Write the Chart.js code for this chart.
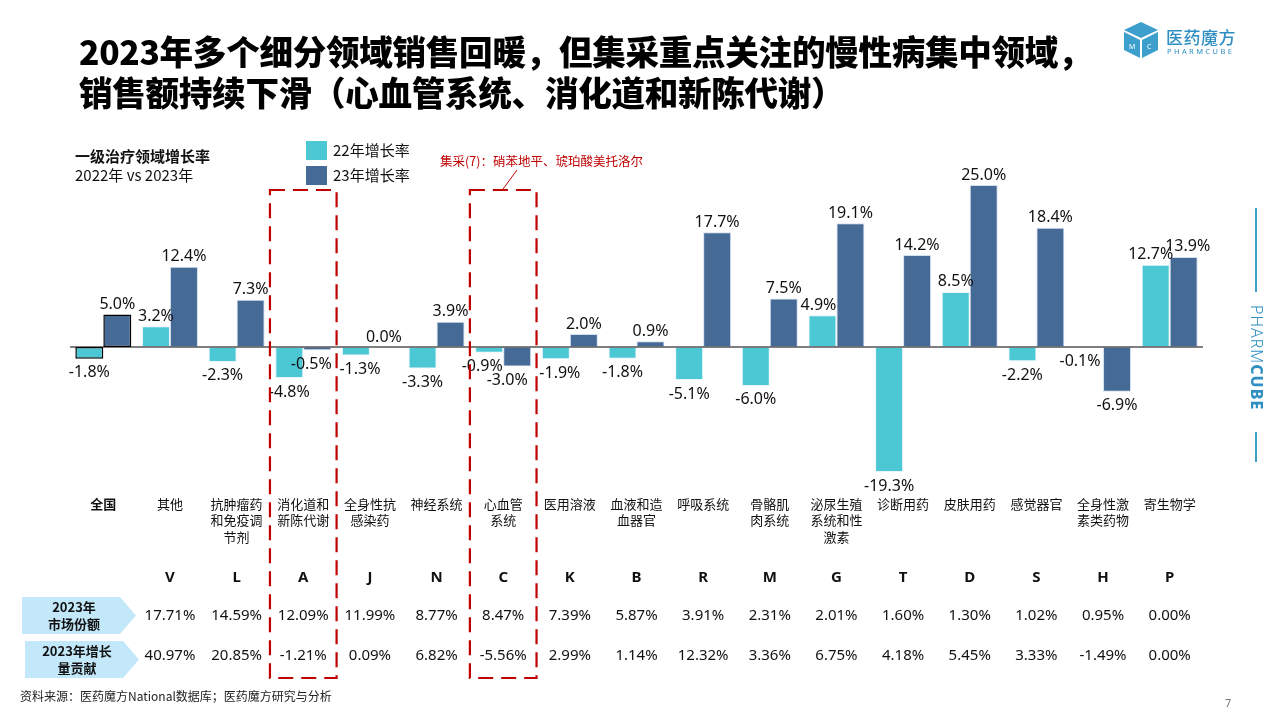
<!DOCTYPE html>
<html><head><meta charset="utf-8">
<script src="https://cdn.jsdelivr.net/npm/chart.js@4/dist/chart.umd.min.js"></script>
<style>
html,body{margin:0;padding:0;background:#fff;}
#wrap{position:relative;width:1280px;height:720px;overflow:hidden;font-family:"Noto Sans","Noto Sans CJK SC",sans-serif;color:#111;}
canvas{position:absolute;left:0;top:0;}
.abs{position:absolute;white-space:nowrap;}
#title{left:79px;top:30px;font-family:"Noto Sans CJK SC";font-weight:900;font-size:33.6px;line-height:41px;color:#000;letter-spacing:-0.3px;}
</style></head>
<body><div id="wrap">
<canvas id="c" width="1280" height="720"></canvas>
<div class="abs" id="title">2023年多个细分领域销售回暖，但集采重点关注的慢性病集中领域，<br>销售额持续下滑（心血管系统、消化道和新陈代谢）</div>
<div class="abs" style="left:75px;top:145px;font-family:'Noto Sans CJK SC';font-weight:700;font-size:15px;">一级治疗领域增长率</div>
<div class="abs" style="left:75px;top:164px;font-family:'Noto Sans CJK SC';font-size:15px;">2022年 vs 2023年</div>
<div class="abs" style="left:306px;top:141px;width:21px;height:19px;background:#4BC8D4;"></div>
<div class="abs" style="left:333px;top:139px;font-family:'Noto Sans CJK SC';font-size:15px;">22年增长率</div>
<div class="abs" style="left:306px;top:166px;width:21px;height:19px;background:#466A96;"></div>
<div class="abs" style="left:333px;top:164px;font-family:'Noto Sans CJK SC';font-size:15px;">23年增长率</div>
<div class="abs" style="left:440px;top:151px;font-family:'Noto Sans CJK SC';font-size:12.5px;color:#C00000;">集采(7)：硝苯地平、琥珀酸美托洛尔</div>
<div class="abs" style="left:20px;top:687px;font-family:'Noto Sans CJK SC';font-size:12px;color:#222;">资料来源：医药魔方National数据库；医药魔方研究与分析</div>
<div class="abs" style="left:1225px;top:695px;font-size:11px;color:#777;">7</div>
<svg class="abs" style="left:1122px;top:20px;" width="42" height="40" viewBox="0 0 42 40">
<polygon points="19,2 36,10 19,18 2,10" fill="#3C9FCC"/>
<polygon points="2,12 18,20 18,38 2,30" fill="#3C9FCC"/>
<polygon points="20,20 36,12 36,30 20,38" fill="#3C9FCC"/>
<text x="7" y="29" font-size="7" fill="#fff" font-family="Noto Sans">M</text>
<text x="25" y="29" font-size="7" fill="#fff" font-family="Noto Sans">C</text>
</svg>
<div class="abs" style="left:1166px;top:24px;font-family:'Noto Sans CJK SC';font-size:17px;font-weight:500;color:#2F8FC2;letter-spacing:0.5px;">医药魔方</div>
<div class="abs" style="left:1167px;top:46px;font-size:7.5px;color:#2F8FC2;letter-spacing:2.4px;">PHARMCUBE</div>
<div class="abs" style="left:1255px;top:208px;width:1.5px;height:84px;background:#3C9FCC;"></div>
<div class="abs" style="left:1255px;top:432px;width:1.5px;height:30px;background:#3C9FCC;"></div>
<div class="abs" style="left:1246px;top:305px;writing-mode:vertical-rl;font-size:16px;color:#2F8FC2;letter-spacing:1px;"><span style="font-weight:300">PHARM</span><span style="font-weight:800">CUBE</span></div>
</div>
<script>
// ---- data ----
const categoryLines = [['全国'],['其他'],['抗肿瘤药','和免疫调','节剂'],['消化道和','新陈代谢'],['全身性抗','感染药'],['神经系统'],['心血管','系统'],['医用溶液'],['血液和造','血器官'],['呼吸系统'],['骨骼肌','肉系统'],['泌尿生殖','系统和性','激素'],['诊断用药'],['皮肤用药'],['感觉器官'],['全身性激','素类药物'],['寄生物学']];
const codes = ['','V','L','A','J','N','C','K','B','R','M','G','T','D','S','H','P'];
const growth22 = [-1.8,3.2,-2.3,-4.8,-1.3,-3.3,-0.9,-1.9,-1.8,-5.1,-6.0,4.9,-19.3,8.5,-2.2,-0.1,12.7];
const growth23 = [5.0,12.4,7.3,-0.5,0.0,3.9,-3.0,2.0,0.9,17.7,7.5,19.1,14.2,25.0,18.4,-6.9,13.9];
const marketShare = ['','17.71%','14.59%','12.09%','11.99%','8.77%','8.47%','7.39%','5.87%','3.91%','2.31%','2.01%','1.60%','1.30%','1.02%','0.95%','0.00%'];
const contribution = ['','40.97%','20.85%','-1.21%','0.09%','6.82%','-5.56%','2.99%','1.14%','12.32%','3.36%','6.75%','4.18%','5.45%','3.33%','-1.49%','0.00%'];
const rowHeaders = [['2023年','市场份额'],['2023年增长','量贡献']];
const seriesNames = ['22年增长率','23年增长率'];
const highlighted = ['A','C'];

const C22 = '#4BC8D4', C23 = '#466A96', RED = '#C00000';
const labels = categoryLines.map(l => l.join(''));
// small horizontal nudges of value labels to avoid collisions (style only)
const labelNudge = { '0-6': -7, '1-3': -6, '1-6': -10, '0-16': -5, '1-16': 4, '0-15': -9, '0-7': 4, '0-4': 4, '0-11': -4 };

const overlay = {
  id: 'overlay',
  afterDatasetsDraw(chart) {
    const ctx = chart.ctx, xs = chart.scales.x, ys = chart.scales.y;
    const y0 = ys.getPixelForValue(0);
    const step = xs.getPixelForValue(1) - xs.getPixelForValue(0);
    ctx.save();
    // zero line
    ctx.strokeStyle = '#000'; ctx.lineWidth = 1.2;
    ctx.beginPath(); ctx.moveTo(chart.chartArea.left, y0); ctx.lineTo(chart.chartArea.right, y0); ctx.stroke();
    // data labels
    ctx.fillStyle = '#111'; ctx.font = '16px "Noto Sans"'; ctx.textAlign = 'center';
    chart.data.datasets.forEach((ds, di) => {
      const meta = chart.getDatasetMeta(di);
      meta.data.forEach((bar, i) => {
        const v = ds.data[i];
        const t = v.toFixed(1) + '%';
        const dx = labelNudge[di + '-' + i] || 0;
        if (v >= 0) { ctx.textBaseline = 'bottom'; ctx.fillText(t, bar.x + dx, bar.y - 2); }
        else { ctx.textBaseline = 'top'; ctx.fillText(t, bar.x + dx, bar.y + 6); }
      });
    });
    // category labels
    ctx.textBaseline = 'middle';
    categoryLines.forEach((lines, i) => {
      const x = xs.getPixelForValue(i);
      ctx.font = (i === 0 ? 'bold ' : '') + '13px "Noto Sans CJK SC"';
      lines.forEach((s, k) => ctx.fillText(s, x, 504 + k * 16.5));
      ctx.font = 'bold 15px "Noto Sans"';
      ctx.fillText(codes[i], x, 578);
      ctx.font = '15px "Noto Sans"';
      ctx.fillText(marketShare[i], x, 616);
      ctx.fillText(contribution[i], x, 656);
    });
    // row header arrows
    [[22, 597, 634], [25, 641, 678]].forEach(([lx, ty, by], r) => {
      ctx.fillStyle = '#C3E8FA';
      ctx.beginPath();
      ctx.moveTo(lx, ty); ctx.lineTo(lx + 98, ty); ctx.lineTo(lx + 114, (ty + by) / 2);
      ctx.lineTo(lx + 98, by); ctx.lineTo(lx, by); ctx.closePath(); ctx.fill();
      ctx.fillStyle = '#111'; ctx.font = 'bold 13px "Noto Sans CJK SC"';
      ctx.fillText(rowHeaders[r][0], lx + 52, ty + 10);
      ctx.fillText(rowHeaders[r][1], lx + 52, ty + 27);
    });
    // dashed boxes
    ctx.strokeStyle = RED; ctx.lineWidth = 2.2; ctx.setLineDash([15, 8]);
    highlighted.forEach(code => {
      const i = codes.indexOf(code);
      const x = xs.getPixelForValue(i);
      ctx.strokeRect(x - step / 2, 190, step, 488);
    });
    ctx.setLineDash([]); ctx.lineWidth = 1;
    ctx.beginPath(); ctx.moveTo(517, 170); ctx.lineTo(503, 189); ctx.stroke();
    ctx.restore();
  }
};

new Chart(document.getElementById('c'), {
  type: 'bar',
  data: {
    labels: labels,
    datasets: [
      { label: seriesNames[0], data: growth22, backgroundColor: C22,
        borderColor: growth22.map((v,i) => i === 0 ? '#000' : 'rgba(230,240,250,0.8)'), borderWidth: growth22.map((v,i)=> i===0?1.5:1), borderSkipped: false },
      { label: seriesNames[1], data: growth23, backgroundColor: C23,
        borderColor: growth23.map((v,i) => i === 0 ? '#000' : 'rgba(200,215,235,0.8)'), borderWidth: growth23.map((v,i)=> i===0?1.5:1), borderSkipped: false }
    ]
  },
  options: {
    responsive: false, animation: false,
    layout: { padding: { left: 70, right: 77, top: 152.6, bottom: 211 } },
    datasets: { bar: { categoryPercentage: 0.84, barPercentage: 1.0 } },
    plugins: { legend: { display: false }, tooltip: { enabled: false } },
    scales: {
      x: { display: false },
      y: { display: false, min: -25, max: 30 }
    }
  },
  plugins: [overlay]
});
</script>
</body></html>
